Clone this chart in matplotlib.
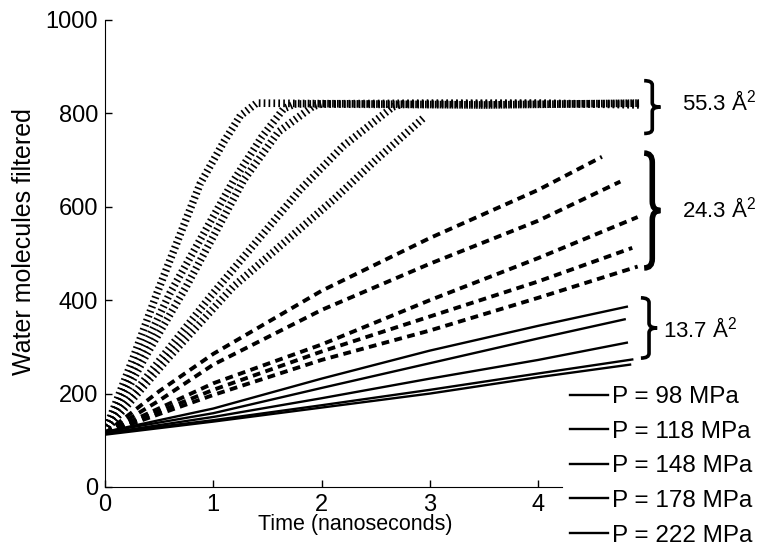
import matplotlib
matplotlib.use('Agg')
import matplotlib.pyplot as plt
from matplotlib.path import Path
from matplotlib.patches import PathPatch

plt.rcParams['font.family'] = ['Liberation Sans', 'DejaVu Sans']
plt.rcParams['mathtext.fontset'] = 'custom'
plt.rcParams['mathtext.rm'] = 'Liberation Sans'

# pressures, lowest first
labels = ['P = 98 MPa', 'P = 118 MPa', 'P = 148 MPa', 'P = 178 MPa', 'P = 222 MPa']

# 55.3 A^2 pore (hatched), same order as labels
wide_t = [[0, 0.6, 1.18, 2.11, 2.5, 2.94],
          [0, 0.5, 0.97, 1.8, 2.2, 2.66, 2.75, 4.0, 4.94],
          [0, 0.375, 0.75, 1.28, 1.6, 1.92, 2.0, 3.5, 4.94],
          [0, 0.3, 0.6, 1.19, 1.45, 1.65, 1.75, 3.0, 4.94],
          [0, 0.25, 0.48, 0.88, 1.1, 1.25, 1.4, 2.5, 3.5, 4.94]]
wide_n = [[120, 280, 428, 615, 700, 790],
          [120, 270, 407, 636, 730, 814, 820, 822, 818],
          [120, 280, 429, 657, 760, 815, 820, 818, 822],
          [120, 270, 415, 657, 750, 810, 820, 822, 820],
          [120, 270, 415, 650, 740, 795, 822, 820, 818, 822]]

# 24.3 A^2 pore (thick dashes)
mid_t = [[0, 1, 2, 3, 4, 4.92],
         [0, 1, 2, 3, 4, 4.87],
         [0, 1, 2, 3, 4, 4.92],
         [0, 0.5, 1, 2, 3, 4, 4.76],
         [0, 0.5, 1, 2, 3, 4, 4.59]]
mid_n = [[115, 197, 272, 335, 405, 472],
         [115, 208, 290, 365, 440, 512],
         [115, 222, 305, 400, 490, 578],
         [115, 185, 262, 379, 478, 570, 654],
         [115, 205, 285, 420, 533, 636, 707]]

# 13.7 A^2 pore (solid)
small_t = [[0, 1, 2, 3, 4, 4.85],
           [0, 1, 2, 3, 4, 4.87],
           [0, 1, 2, 3, 4, 4.82],
           [0, 1, 2, 3, 4, 4.80],
           [0, 1, 2, 3, 4, 4.82]]
small_n = [[112, 140, 170, 200, 235, 262],
           [115, 143, 175, 208, 243, 273],
           [115, 150, 190, 232, 272, 309],
           [118, 158, 212, 265, 318, 359],
           [118, 168, 232, 292, 345, 386]]

areas = ['55.3 Å$^2$', '24.3 Å$^2$', '13.7 Å$^2$']
brace_lo = [757, 469, 276]
brace_hi = [870, 715, 405]
label_y = [822, 593, 336]


def brace(ax, x0, y0, y1, w, lw):
    xm = x0 + w * 0.5
    xt = x0 + w
    ym = (y0 + y1) / 2
    c = (y1 - y0) * 0.08
    verts = [(x0, y1), (xm, y1), (xm, y1 - c), (xm, ym + c), (xm, ym), (xt, ym),
             (xm, ym), (xm, ym - c), (xm, y0 + c), (xm, y0), (x0, y0)]
    codes = [Path.MOVETO, Path.CURVE3, Path.CURVE3, Path.LINETO, Path.CURVE3, Path.CURVE3,
             Path.CURVE3, Path.CURVE3, Path.LINETO, Path.CURVE3, Path.CURVE3]
    ax.add_patch(PathPatch(Path(verts, codes), fill=False, lw=lw, color='black',
                           capstyle='butt', clip_on=False))


fig = plt.figure(figsize=(7.66, 5.46), dpi=100)
ax = fig.add_axes([0.1371, 0.1081, 0.848, 0.8553])

for t, n in zip(wide_t, wide_n):
    ax.plot(t, n, color='black', lw=5.5, dashes=(0.22, 0.42), dash_capstyle='butt')
for t, n in zip(mid_t, mid_n):
    ax.plot(t, n, color='black', lw=2.8, dashes=(2.0, 1.4), dash_capstyle='butt')
handles = []
for t, n, lab in zip(small_t, small_n, labels):
    h, = ax.plot(t, n, color='black', lw=1.7, label=lab)
    handles.append(h)

ax.set_xlim(0, 6.0)
ax.set_ylim(0, 1000)
ax.spines['top'].set_visible(False)
ax.spines['right'].set_visible(False)
ax.spines['bottom'].set_bounds(0, 4.22)
ax.set_xticks([0, 1, 2, 3, 4])
ax.set_yticks([0, 200, 400, 600, 800, 1000])
ax.tick_params(direction='in', length=5, width=1, labelsize=17, pad=5)

ax.set_xlabel('Time (nanoseconds)', fontsize=15.5)
ax.xaxis.set_label_coords(0.385, -0.058)
ax.set_ylabel('Water molecules filtered', fontsize=18)
ax.yaxis.set_label_coords(-0.106, 0.525)

for i in range(3):
    brace(ax, 4.98 if i < 2 else 4.95, brace_lo[i], brace_hi[i], 0.15, 4 if i == 1 else 2.6)
    ax.text(5.33 if i < 2 else 5.15, label_y[i], areas[i], fontsize=16, va='center')

ax.legend(handles=handles, loc='upper left', bbox_to_anchor=(0.744, 0.293),
          bbox_transform=fig.transFigure, frameon=False, fontsize=17.5,
          handlelength=1.55, handletextpad=0.2, labelspacing=0.52, borderpad=0,
          borderaxespad=0)

fig.savefig('out.png', dpi=100)
